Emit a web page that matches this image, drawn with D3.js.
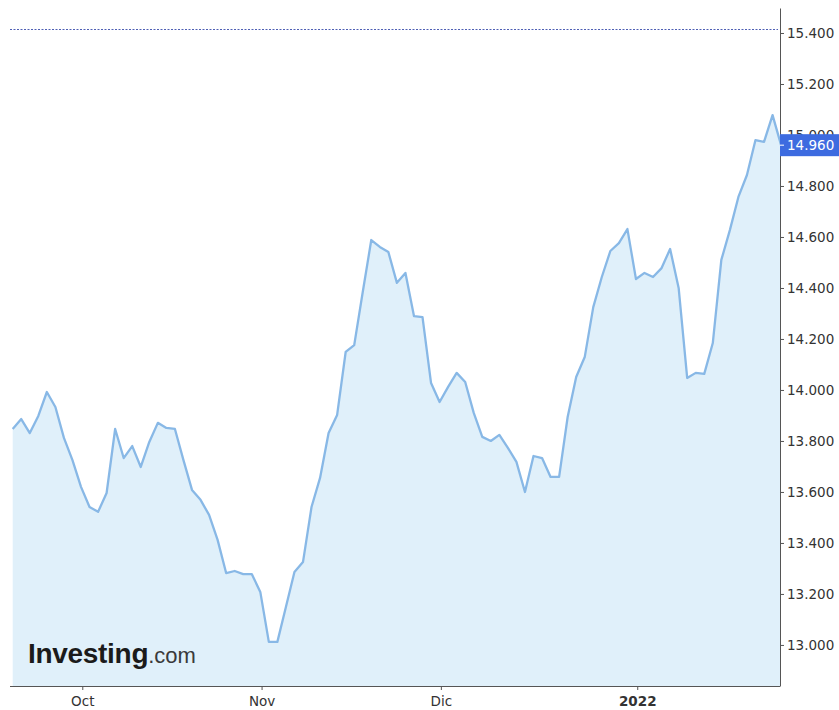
<!DOCTYPE html>
<html>
<head>
<meta charset="utf-8">
<script src="https://cdn.jsdelivr.net/npm/d3@7"></script>
<style>
  html, body { margin: 0; padding: 0; background: #fff; }
  svg { display: block; }
</style>
</head>
<body>
<svg id="chart" width="839" height="710"></svg>
<script>
// ---- data (one value per trading day, Sept 2021 - Jan 2022) ----
const values = [
  13.847, 13.886, 13.831, 13.898, 13.992, 13.933, 13.812, 13.725, 13.620, 13.541,
  13.522, 13.596, 13.847, 13.733, 13.780, 13.698, 13.796, 13.871, 13.851, 13.847,
  13.725, 13.608, 13.569, 13.510, 13.412, 13.282, 13.290, 13.278, 13.278, 13.208,
  13.012, 13.012, 13.149, 13.286, 13.325, 13.541, 13.655, 13.831, 13.902, 14.149,
  14.176, 14.384, 14.588, 14.561, 14.541, 14.420, 14.459, 14.290, 14.286, 14.027,
  13.953, 14.012, 14.067, 14.031, 13.910, 13.816, 13.800, 13.824, 13.773, 13.718,
  13.600, 13.741, 13.733, 13.659, 13.659, 13.894, 14.051, 14.129, 14.325, 14.443,
  14.545, 14.576, 14.631, 14.435, 14.459, 14.443, 14.478, 14.553, 14.400, 14.047,
  14.067, 14.063, 14.184, 14.510, 14.627, 14.757, 14.843, 14.980, 14.973, 15.078,
  14.960
];
const monthLabels = ["Oct", "Nov", "Dic", "2022"];
const monthTickIndex = [8.15, 29.15, 50.15, 73.15];   // position of month start in trading-day index
const yTicks = [13.0, 13.2, 13.4, 13.6, 13.8, 14.0, 14.2, 14.4, 14.6, 14.8, 15.0, 15.2, 15.4];
const lastPrice = 14.960;
const highLine = 15.416;
const yAxisMin = 12.839, yAxisMax = 15.498;

// ---- layout ----
const plotLeft = 10, plotRight = 780, plotTop = 8, plotBottom = 686;
const svg = d3.select("#chart");

const x = d3.scaleLinear().domain([0, values.length - 1]).range([12.7, 781.1]);
const y = d3.scaleLinear().domain([yAxisMin, yAxisMax]).range([plotBottom, plotTop]);

const FONT = "'DejaVu Sans', Verdana, sans-serif";

svg.append("defs").append("clipPath").attr("id", "plotclip")
  .append("rect").attr("x", plotLeft).attr("y", plotTop)
  .attr("width", plotRight - plotLeft).attr("height", plotBottom - plotTop);

const g = svg.append("g").attr("clip-path", "url(#plotclip)");

// area
const area = d3.area()
  .x((d, i) => x(i))
  .y0(plotBottom)
  .y1(d => y(d));
g.append("path").datum(values)
  .attr("d", area)
  .attr("fill", "#e0f0fa");

// line
const line = d3.line()
  .x((d, i) => x(i))
  .y(d => y(d));
g.append("path").datum(values)
  .attr("d", line)
  .attr("fill", "none")
  .attr("stroke", "#88b8e6")
  .attr("stroke-width", 2.3)
  .attr("stroke-linejoin", "round");

// dotted high line
svg.append("line")
  .attr("x1", plotLeft).attr("x2", plotRight - 2)
  .attr("y1", Math.round(y(highLine)) + 0.5).attr("y2", Math.round(y(highLine)) + 0.5)
  .attr("stroke", "#4e5fb4").attr("stroke-width", 1)
  .attr("stroke-dasharray", "2,1.5");

// Investing.com logo
const logo = svg.append("text")
  .attr("x", 28).attr("y", 663)
  .style("font-family", "'Liberation Sans', Arial, sans-serif");
logo.append("tspan").text("Investing")
  .attr("font-weight", "bold").attr("font-size", 28).attr("fill", "#1b1b1b")
  .attr("letter-spacing", -0.3);
logo.append("tspan").text(".com")
  .attr("font-size", 22).attr("fill", "#3a3a3a");

// bottom axis
const xAxis = d3.axisBottom(x)
  .tickValues(monthTickIndex)
  .tickFormat((d, i) => monthLabels[i])
  .tickSize(4)
  .tickSizeOuter(0);
const xg = svg.append("g").attr("transform", `translate(0,${plotBottom})`).call(xAxis);
xg.select(".domain").remove();
xg.selectAll(".tick line").attr("stroke", "#555");
xg.selectAll(".tick text")
  .attr("y", 10)
  .attr("fill", "#333")
  .style("font-family", FONT)
  .style("font-size", "13.5px")
  .style("font-weight", (d, i) => monthLabels[i] === "2022" ? "bold" : "normal");
svg.append("line")
  .attr("x1", plotLeft).attr("x2", plotRight)
  .attr("y1", plotBottom + 0.5).attr("y2", plotBottom + 0.5)
  .attr("stroke", "#555").attr("stroke-width", 1);

// right axis
const yAxis = d3.axisRight(y)
  .tickValues(yTicks)
  .tickFormat(d3.format(".3f"))
  .tickSize(4)
  .tickSizeOuter(0);
const yg = svg.append("g").attr("transform", `translate(${plotRight},0)`).call(yAxis);
yg.select(".domain").attr("stroke", "#555");
yg.selectAll(".tick line").attr("stroke", "#555");
yg.selectAll(".tick text")
  .attr("x", 7)
  .attr("fill", "#333")
  .style("font-family", FONT)
  .style("font-size", "13.5px");

// last price label
const py = y(lastPrice);
svg.append("rect")
  .attr("x", plotRight).attr("y", py - 11)
  .attr("width", 839 - plotRight).attr("height", 22)
  .attr("fill", "#3d6be0");
svg.append("line")
  .attr("x1", plotRight).attr("x2", plotRight + 4)
  .attr("y1", py).attr("y2", py)
  .attr("stroke", "#fff").attr("stroke-width", 1);
svg.append("text")
  .attr("x", plotRight + 7).attr("y", py)
  .attr("dy", "0.35em")
  .attr("fill", "#fff")
  .style("font-family", FONT)
  .style("font-size", "13.5px")
  .text(d3.format(".3f")(lastPrice));
</script>
</body>
</html>
